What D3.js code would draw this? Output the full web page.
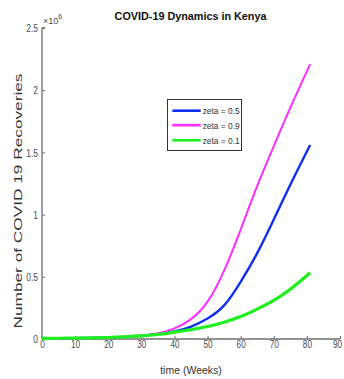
<!DOCTYPE html>
<html><head><meta charset="utf-8">
<script src="https://cdn.jsdelivr.net/npm/d3@7"></script>
<style>body{margin:0;background:#fff}svg{display:block}text{font-family:"Liberation Sans",Arial,sans-serif}</style>
</head><body><svg id="c" width="344" height="379"></svg>
<script>
const weeks = [0, 5, 10, 15, 20, 25, 30, 35, 40, 45, 50, 55, 60, 65, 70, 75, 81];
const zeta05 = [0.005, 0.006, 0.007, 0.009, 0.012, 0.017, 0.026, 0.040, 0.060, 0.100, 0.165, 0.270, 0.460, 0.690, 0.960, 1.240, 1.560];
const zeta09 = [0.005, 0.006, 0.007, 0.009, 0.012, 0.017, 0.027, 0.045, 0.085, 0.160, 0.300, 0.550, 0.880, 1.230, 1.550, 1.860, 2.210];
const zeta01 = [0.005, 0.006, 0.007, 0.009, 0.012, 0.017, 0.025, 0.036, 0.055, 0.075, 0.100, 0.135, 0.180, 0.240, 0.310, 0.400, 0.533];
const xTicks = [0, 10, 20, 30, 40, 50, 60, 70, 80, 90];
const yTicks = [0, 0.5, 1, 1.5, 2, 2.5];
const seriesNames = ["zeta = 0.5", "zeta = 0.9", "zeta = 0.1"];
const seriesColors = ["#1030f0", "#ff2cff", "#1ef01e"];
const seriesWidths = [2.4, 2.0, 3.2];

const svg = d3.select("#c");
const x = d3.scaleLinear().domain([0, 90]).range([42, 340]);
const y = d3.scaleLinear().domain([0, 2.5]).range([339, 28]);
const axisCol = "#6e6e6e", labCol = "#4a4a4a";

function squeeze(sel, f) {
  sel.each(function(){ const w = this.getComputedTextLength(); d3.select(this).attr("textLength", w*f).attr("lengthAdjust","spacingAndGlyphs"); });
}

// axes
const xa = svg.append("g").attr("transform", "translate(0,339)")
  .call(d3.axisBottom(x).tickValues(xTicks).tickSize(-3).tickPadding(5).tickFormat(d3.format("d")));
const ya = svg.append("g").attr("transform", "translate(42,0)")
  .call(d3.axisLeft(y).tickValues(yTicks).tickSize(-3).tickPadding(5).tickFormat(d => d === 0 ? "0" : String(d)));
[xa, ya].forEach(g => {
  g.select(".domain").attr("stroke", axisCol).attr("stroke-width", 1.3);
  g.selectAll(".tick line").attr("stroke", axisCol).attr("stroke-width", 1);
  g.selectAll(".tick text").attr("fill", labCol).style("font-size", "10.5px").style("font-family", "Liberation Sans, Arial, sans-serif");
});
xa.select(".domain").attr("d", "M42,0H340");
ya.select(".domain").attr("d", `M3,${y(2.5)}H0V339`);
xa.selectAll(".tick text").attr("dy", null).attr("y", 9);
xa.selectAll(".tick text").filter(d => d === 90).attr("x", -3);
ya.selectAll(".tick text").attr("dy", "0.35em").attr("x", -4);
squeeze(xa.selectAll(".tick text"), 0.78);
squeeze(ya.selectAll(".tick text"), 0.8);

// exponent label
const ex = svg.append("text").attr("x", 43).attr("y", 24).attr("fill", labCol).style("font-size", "9px");
ex.append("tspan").text("\u00d710");
ex.append("tspan").attr("dy", -5).style("font-size", "7px").text("6");

// lines
const data = [zeta05, zeta09, zeta01];
const line = d3.line().x((d, i) => x(weeks[i])).y(d => y(d)).curve(d3.curveNatural);
data.forEach((s, k) => {
  svg.append("path").datum(s).attr("d", line).attr("fill", "none")
    .attr("stroke", seriesColors[k]).attr("stroke-width", seriesWidths[k]).attr("stroke-linejoin", "round");
});

// title
svg.append("text").attr("x", 190.5).attr("y", 20).attr("text-anchor", "middle")
  .style("font-size", "10.8px").style("font-weight", "bold").attr("fill", "#111")
  .text("COVID-19 Dynamics in Kenya");

// axis labels
svg.append("text").attr("x", 191).attr("y", 374).attr("text-anchor", "middle")
  .style("font-size", "10.5px").attr("fill", "#333").text("time (Weeks)");
svg.append("text").attr("transform", "translate(21.5,201) rotate(-90)").attr("text-anchor", "middle")
  .style("font-size", "11px").attr("fill", "#333")
  .attr("textLength", 255).attr("lengthAdjust", "spacingAndGlyphs")
  .text("Number of COVID 19 Recoveries");

// legend
const lg = svg.append("g");
lg.append("rect").attr("x", 167.5).attr("y", 99.5).attr("width", 74).attr("height", 51)
  .attr("fill", "#fff").attr("stroke", "#333").attr("stroke-width", 1);
const rowY = [110.7, 125.2, 140.3];
seriesNames.forEach((n, k) => {
  lg.append("line").attr("x1", 172.3).attr("x2", 200.7).attr("y1", rowY[k]).attr("y2", rowY[k])
    .attr("stroke", seriesColors[k]).attr("stroke-width", 2.6);
  lg.append("text").attr("x", 202.7).attr("y", rowY[k] + 3.3).style("font-size", "9.5px").attr("fill", "#333")
    .attr("textLength", 37).attr("lengthAdjust", "spacingAndGlyphs").text(n);
});
</script></body></html>
